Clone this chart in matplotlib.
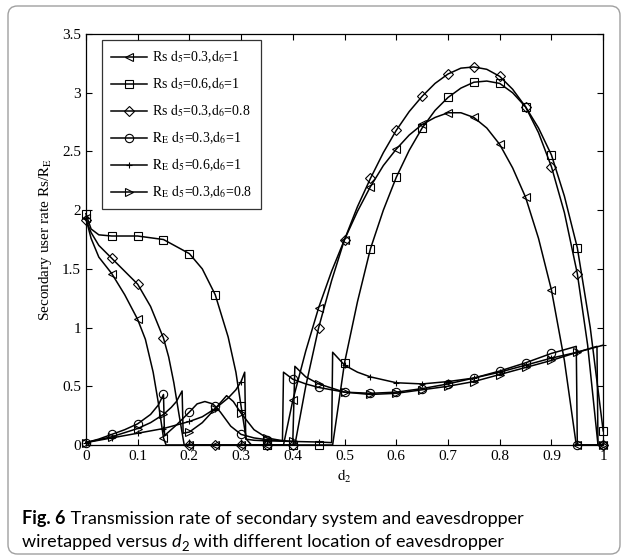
import numpy as np
import matplotlib.pyplot as plt
from matplotlib.lines import Line2D
from matplotlib.patches import FancyBboxPatch

plt.rcParams['font.family'] = 'Liberation Serif'
plt.rcParams['mathtext.fontset'] = 'stix'

# Rs, d5=0.3, d6=1  (left triangle)
x_rs1 = [0, 0.01, 0.025, 0.05, 0.075, 0.1, 0.115, 0.13, 0.14, 0.15, 0.155, 0.2, 0.25, 0.3, 0.35,
         0.382, 0.4, 0.425, 0.45, 0.475, 0.5, 0.525, 0.55, 0.575, 0.6, 0.625, 0.65, 0.675, 0.7,
         0.725, 0.75, 0.775, 0.8, 0.825, 0.85, 0.875, 0.9, 0.925, 0.948, 0.95, 1.0]
y_rs1 = [1.93, 1.76, 1.6, 1.46, 1.28, 1.07, 0.9, 0.62, 0.36, 0.06, 0.0, 0, 0, 0, 0,
         0, 0.38, 0.8, 1.17, 1.48, 1.75, 1.99, 2.2, 2.38, 2.52, 2.64, 2.73, 2.79, 2.83,
         2.83, 2.79, 2.7, 2.56, 2.36, 2.11, 1.76, 1.32, 0.72, 0.0, 0.0, 0.0]

# Rs, d5=0.6, d6=1  (square)
x_rs2 = [0, 0.01, 0.025, 0.05, 0.1, 0.15, 0.2, 0.225, 0.25, 0.275, 0.29, 0.3, 0.31, 0.32, 0.35,
         0.4, 0.45, 0.477, 0.5, 0.525, 0.55, 0.575, 0.6, 0.625, 0.65, 0.675, 0.7, 0.725, 0.75,
         0.775, 0.8, 0.825, 0.85, 0.875, 0.9, 0.925, 0.95, 0.975, 1.0]
y_rs2 = [1.97, 1.84, 1.79, 1.78, 1.78, 1.75, 1.63, 1.5, 1.28, 0.92, 0.62, 0.33, 0.05, 0.0, 0.0,
         0.0, 0.0, 0.0, 0.7, 1.22, 1.67, 2.0, 2.28, 2.51, 2.7, 2.85, 2.96, 3.04, 3.09,
         3.1, 3.08, 3.0, 2.88, 2.7, 2.47, 2.12, 1.68, 1.0, 0.12]

# Rs, d5=0.3, d6=0.8  (diamond)
x_rs3 = [0, 0.01, 0.025, 0.05, 0.075, 0.1, 0.125, 0.15, 0.16, 0.17, 0.18, 0.19, 0.2, 0.25, 0.3,
         0.35, 0.4, 0.404, 0.425, 0.45, 0.475, 0.5, 0.525, 0.55, 0.575, 0.6, 0.625, 0.65, 0.675,
         0.7, 0.725, 0.75, 0.775, 0.8, 0.825, 0.85, 0.875, 0.9, 0.925, 0.95, 0.97, 0.99, 1.0]
y_rs3 = [1.92, 1.81, 1.7, 1.59, 1.48, 1.37, 1.18, 0.91, 0.75, 0.53, 0.26, 0.0, 0, 0, 0,
         0, 0, 0.0, 0.5, 1.0, 1.4, 1.75, 2.03, 2.27, 2.49, 2.68, 2.84, 2.97, 3.08,
         3.16, 3.21, 3.22, 3.2, 3.14, 3.03, 2.88, 2.66, 2.37, 1.98, 1.46, 0.85, 0.0, 0.0]

# RE, d5=0.3, d6=1  (circle)
x_re1 = [0, 0.025, 0.05, 0.075, 0.1, 0.125, 0.14, 0.15, 0.152, 0.175, 0.2, 0.215, 0.23, 0.245,
         0.25, 0.26, 0.28, 0.3, 0.325, 0.35, 0.38, 0.382, 0.4, 0.425, 0.45, 0.5, 0.55, 0.6, 0.65,
         0.7, 0.75, 0.8, 0.85, 0.9, 0.948, 0.95, 1.0]
y_re1 = [0.02, 0.05, 0.09, 0.13, 0.18, 0.26, 0.34, 0.43, 0.08, 0.17, 0.28, 0.35, 0.37, 0.35,
         0.33, 0.28, 0.16, 0.09, 0.06, 0.045, 0.035, 0.62, 0.56, 0.52, 0.49, 0.45, 0.44, 0.45, 0.48,
         0.52, 0.57, 0.63, 0.7, 0.78, 0.84, 0.0, 0.0]

# RE, d5=0.6, d6=1  (plus)
x_re2 = [0, 0.05, 0.1, 0.15, 0.2, 0.225, 0.25, 0.275, 0.29, 0.3, 0.307, 0.309, 0.325, 0.35, 0.4,
         0.45, 0.475, 0.477, 0.5, 0.525, 0.55, 0.6, 0.65, 0.7, 0.75, 0.8, 0.85, 0.9, 0.95, 1.0]
y_re2 = [0.02, 0.06, 0.1, 0.14, 0.2, 0.24, 0.31, 0.4, 0.47, 0.54, 0.62, 0.05, 0.04, 0.035, 0.03,
         0.025, 0.02, 0.79, 0.68, 0.62, 0.58, 0.53, 0.52, 0.54, 0.57, 0.62, 0.68, 0.74, 0.79, 0.85]

# RE, d5=0.3, d6=0.8  (right triangle)
x_re3 = [0, 0.05, 0.1, 0.125, 0.15, 0.165, 0.175, 0.186, 0.188, 0.2, 0.225, 0.25, 0.272, 0.285,
         0.3, 0.325, 0.35, 0.375, 0.4, 0.404, 0.425, 0.45, 0.5, 0.55, 0.6, 0.65, 0.7, 0.75, 0.8,
         0.85, 0.9, 0.95, 0.988, 0.99, 1.0]
y_re3 = [0.02, 0.07, 0.14, 0.19, 0.26, 0.32, 0.37, 0.46, 0.1, 0.11, 0.19, 0.31, 0.42, 0.37,
         0.27, 0.13, 0.06, 0.04, 0.03, 0.67, 0.58, 0.52, 0.45, 0.43, 0.44, 0.47, 0.5, 0.54, 0.6,
         0.66, 0.72, 0.79, 0.84, 0.0, 0.0]

labels = ['Rs $\\mathrm{d}_5$=0.3,$\\mathrm{d}_6$=1',
          'Rs $\\mathrm{d}_5$=0.6,$\\mathrm{d}_6$=1',
          'Rs $\\mathrm{d}_5$=0.3,$\\mathrm{d}_6$=0.8',
          '$\\mathrm{R}_\\mathrm{E}$ $\\mathrm{d}_5$=0.3,$\\mathrm{d}_6$=1',
          '$\\mathrm{R}_\\mathrm{E}$ $\\mathrm{d}_5$=0.6,$\\mathrm{d}_6$=1',
          '$\\mathrm{R}_\\mathrm{E}$ $\\mathrm{d}_5$=0.3,$\\mathrm{d}_6$=0.8']
markers = ['<', 's', 'D', 'o', '+', '>']
msizes = [6, 6, 5, 6, 5, 6]

series = [(x_rs1, y_rs1), (x_rs2, y_rs2), (x_rs3, y_rs3),
          (x_re1, y_re1), (x_re2, y_re2), (x_re3, y_re3)]

fig = plt.figure(figsize=(6.27, 5.59), dpi=100)
ax = fig.add_axes([0.137, 0.204, 0.825, 0.735])

handles = []
for (x, y), m, ms, lab in zip(series, markers, msizes, labels):
    x = np.asarray(x)
    on_grid = np.isclose(x * 20, np.round(x * 20))   # markers every 0.05
    ax.plot(x, y, color='k', lw=1.1, marker=m, ms=ms, mfc='none', mec='k', mew=0.8,
            markevery=on_grid, clip_on=False)
    handles.append(Line2D([], [], color='k', lw=1.1, marker=m, ms=ms, mfc='none',
                          mec='k', mew=0.8, label=lab))

ax.set_xlim(0, 1)
ax.set_ylim(0, 3.5)
ax.set_xticks(np.arange(0, 1.01, 0.1))
ax.set_xticklabels(['0', '0.1', '0.2', '0.3', '0.4', '0.5', '0.6', '0.7', '0.8', '0.9', '1'])
ax.set_yticks(np.arange(0, 3.51, 0.5))
ax.set_yticklabels(['0', '0.5', '1', '1.5', '2', '2.5', '3', '3.5'])
ax.tick_params(direction='in', top=True, right=True, length=4, width=0.8, labelsize=11)
for s in ax.spines.values():
    s.set_linewidth(0.9)
ax.set_xlabel('$\\mathrm{d}_2$', fontsize=11, labelpad=4)
ax.set_ylabel('Secondary user rate Rs/$\\mathrm{R}_\\mathrm{E}$', fontsize=11, labelpad=6)

leg = ax.legend(handles=handles, loc='upper left', bbox_to_anchor=(0.032, 0.985),
                borderaxespad=0, fontsize=10, frameon=True, fancybox=False,
                edgecolor='k', handlelength=2.6, labelspacing=0.75, borderpad=0.6,
                handletextpad=0.4)
leg.get_frame().set_linewidth(0.9)

# figure frame with rounded corners
fig.patches.append(FancyBboxPatch((8 / 627, 5 / 559), 612 / 627, 548 / 559,
                                  boxstyle='round,pad=0,rounding_size=0.015',
                                  mutation_aspect=627 / 559, transform=fig.transFigure,
                                  fill=False, ec='#a0a0a0', lw=1.0))

# caption
cap = dict(family='Lato', size=13, va='bottom', ha='left')
t1 = fig.text(22 / 627, 1 - 527 / 559, 'Fig. 6', fontweight='bold', **cap)
ax.annotate(' Transmission rate of secondary system and eavesdropper', xy=(1, 0), xycoords=t1,
            annotation_clip=False, **cap)
t2 = fig.text(22 / 627, 1 - 550 / 559, 'wiretapped versus ', **cap)
t3 = ax.annotate('d', xy=(1, 0), xycoords=t2, style='italic', annotation_clip=False, **cap)
t4 = ax.annotate('2', xy=(1, 0), xycoords=t3, xytext=(0, -2.5), textcoords='offset points',
                 family='Lato', size=9.5, va='bottom', ha='left', annotation_clip=False)
ax.annotate(' with different location of eavesdropper', xy=(1, 0), xycoords=t4,
            xytext=(0, 2.5), textcoords='offset points', annotation_clip=False, **cap)

fig.savefig('out.png', dpi=100)
